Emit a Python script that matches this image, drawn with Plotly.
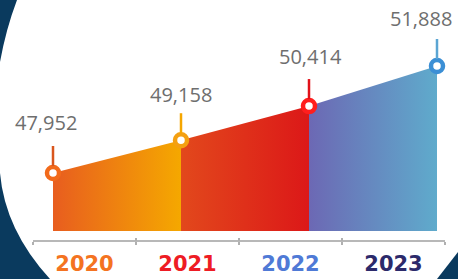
import plotly.graph_objects as go

# ---- data ----
years = ["2020", "2021", "2022", "2023"]
values = [47952, 49158, 50414, 51888]
value_labels = ["47,952", "49,158", "50,414", "51,888"]

# ---- styles ----
year_colors = ["#f47321", "#ee1c24", "#4f7ad6", "#2c2a6b"]
marker_colors = ["#f26a1b", "#f4a012", "#ff1e1e", "#3b8fd5"]
stem_colors = ["#d9561d", "#f5a600", "#e11119", "#5ba5d3"]
seg_colors = [("#e85d1f", "#f5a800"), ("#e2481c", "#dc1818"), ("#6c68b4", "#5fabcc")]
label_xshift = [-7, 0, 1, -16]
label_yshift = [50, 46, 50, 48]
NAVY = "#0a3a5e"

W, H = 458, 279
xs = list(range(len(years)))

fig = go.Figure()

# gradient-filled area segments
for i in range(len(years) - 1):
    c0, c1 = seg_colors[i]
    fig.add_trace(go.Scatter(
        x=[xs[i], xs[i + 1]], y=[values[i], values[i + 1]],
        mode="lines", line=dict(width=0, color=c1),
        fill="tozeroy",
        fillgradient=dict(type="horizontal", colorscale=[[0, c0], [1, c1]]),
        hoverinfo="skip", showlegend=False,
    ))

# stems (vertical pins above markers)
for i in range(len(years)):
    fig.add_shape(type="line", xref="x", yref="y", x0=xs[i], x1=xs[i],
                  ysizemode="pixel", yanchor=values[i], y0=7, y1=27,
                  line=dict(color=stem_colors[i], width=2.5), layer="above")

# ring markers
fig.add_trace(go.Scatter(
    x=xs, y=values, mode="markers",
    marker=dict(size=12, color="white", line=dict(width=4.5, color=marker_colors)),
    hoverinfo="skip", showlegend=False, cliponaxis=False,
))

# value labels
for i in range(len(years)):
    fig.add_annotation(x=xs[i], y=values[i], text=value_labels[i], showarrow=False,
                       xshift=label_xshift[i], yshift=label_yshift[i],
                       font=dict(family="Open Sans", size=20, color="#6e6e6e"))

# background navy corners (decorative)
def P(x, y):
    return f"{x / W:.5f},{1 - y / H:.5f}"

corners = [
    f"M {P(0,0)} L {P(17,0)} Q {P(6,29)} {P(0,62)} Z",
    f"M {P(0,173)} Q {P(5,230)} {P(50,279)} L {P(0,279)} Z",
    f"M {P(437,279)} L {P(458,252)} L {P(458,279)} Z",
]
for pth in corners:
    fig.add_shape(type="path", xref="paper", yref="paper", path=pth,
                  fillcolor=NAVY, line=dict(width=0), layer="below")

ydom0 = 1 - 231 / H
axis_pos = 1 - 241 / H
xdom = [33 / W, 445 / W]
ticktext = [f'<span style="color:{c}">{y}</span>' for y, c in zip(years, year_colors)]

fig.add_trace(go.Scatter(x=years, y=[None] * 4, xaxis="x2", yaxis="y", showlegend=False, hoverinfo="skip"))
fig.add_trace(go.Scatter(x=years, y=[None] * 4, xaxis="x3", yaxis="y", showlegend=False, hoverinfo="skip"))

fig.update_layout(
    width=W, height=H,
    margin=dict(l=0, r=0, t=0, b=0),
    paper_bgcolor="white", plot_bgcolor="rgba(0,0,0,0)",
    xaxis=dict(domain=[0, 1], range=[-53 / 128, -53 / 128 + W / 128], visible=False),
    yaxis=dict(domain=[ydom0, 1], range=[45818, 54316], visible=False),
    xaxis2=dict(type="category", domain=xdom, range=[-0.5, 3.5], anchor="free", position=axis_pos,
                tickson="boundaries", ticks="outside", ticklen=3, tickwidth=2,
                tickcolor="#b0b0b0", showline=True, linecolor="#b8b8b8", linewidth=2,
                showgrid=False, zeroline=False, tickmode="array", tickvals=years, ticktext=ticktext,
                tickfont=dict(family="DejaVu Sans", size=21, weight="bold"), ticklabelstandoff=4),
    xaxis3=dict(type="category", domain=xdom, range=[-0.5, 3.5], anchor="free", position=axis_pos,
                overlaying="x2", tickson="boundaries", ticks="inside", ticklen=3, tickwidth=2,
                tickcolor="#b0b0b0", showline=False, showgrid=False, zeroline=False,
                showticklabels=False, tickmode="array", tickvals=years),
)

fig.write_html("out.html", config={"displayModeBar": False, "staticPlot": True},
               post_script="document.body.style.margin='0px';document.body.style.overflow='hidden';")
